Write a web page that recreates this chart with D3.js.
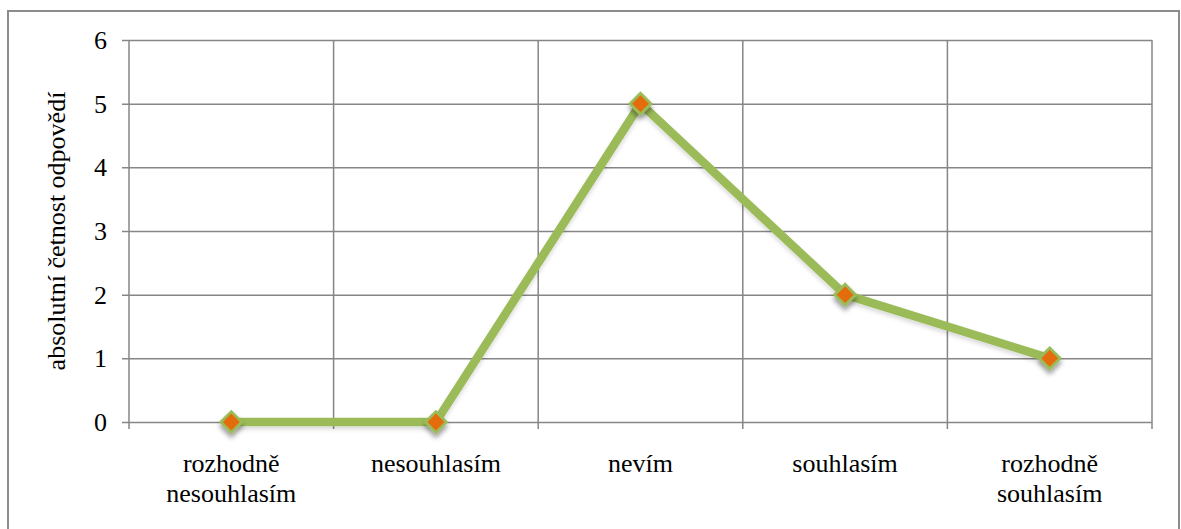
<!DOCTYPE html>
<html>
<head>
<meta charset="utf-8">
<script src="https://cdn.jsdelivr.net/npm/d3@7"></script>
<style>
  html, body { margin: 0; padding: 0; background: #fff; }
  svg { display: block; }
  text { font-family: "Liberation Serif", "Times New Roman", serif; fill: #000; }
</style>
</head>
<body>
<svg id="chart" width="1181" height="529"></svg>
<script>
// Survey answers and how many respondents chose each one
const categories = [["rozhodně", "nesouhlasím"], ["nesouhlasím"], ["nevím"], ["souhlasím"], ["rozhodně", "souhlasím"]];
const counts = [0, 0, 5, 2, 1];
const yTicks = [0, 1, 2, 3, 4, 5, 6];
const yTitle = "absolutní četnost odpovědí";

const W = 1181, H = 529;
const plot = { left: 129, right: 1152, top: 40, bottom: 422 };
const gridColor = "#868686";
const lineColor = "#9BBB59";
const markerFill = "#E46C0A";
const serif = "'Liberation Serif', 'Times New Roman', serif";

const svg = d3.select("#chart");

// soft drop shadow under the line and markers
const defs = svg.append("defs");
const f = defs.append("filter").attr("id", "shadow")
  .attr("x", "-50%").attr("y", "-50%").attr("width", "200%").attr("height", "220%");
f.append("feDropShadow").attr("dx", 0).attr("dy", 4).attr("stdDeviation", 2.6)
  .attr("flood-color", "#000").attr("flood-opacity", 0.4);
const fl = defs.append("filter").attr("id", "lineShadow")
  .attr("x", "-10%").attr("y", "-10%").attr("width", "120%").attr("height", "130%");
fl.append("feDropShadow").attr("dx", 0).attr("dy", 3).attr("stdDeviation", 2)
  .attr("flood-color", "#000").attr("flood-opacity", 0.15);

// outer frame
svg.append("rect")
  .attr("x", 8).attr("y", 11).attr("width", 1171).attr("height", 530)
  .attr("fill", "none").attr("stroke", "#8c8c8c").attr("stroke-width", 2);

const x = d3.scaleBand().domain(d3.range(categories.length))
  .range([plot.left, plot.right]).padding(0);
const y = d3.scaleLinear().domain([0, 6]).range([plot.bottom, plot.top]);

// horizontal gridlines with tick marks on the left
const yAxis = d3.axisLeft(y).tickValues(yTicks).tickSize(7).tickPadding(15)
  .tickFormat(d3.format("d"));
const gy = svg.append("g").attr("transform", `translate(${plot.left},0)`).call(yAxis)
  .attr("font-family", serif);
gy.select(".domain").remove();
gy.selectAll(".tick line").attr("stroke", gridColor).attr("stroke-width", 1.5)
  .attr("x2", -7).attr("x1", plot.right - plot.left);
gy.selectAll(".tick text").attr("font-size", 26).attr("dy", "0.33em");

// vertical gridlines at category boundaries, extending below the axis
const bounds = d3.range(categories.length + 1).map(i =>
  i < categories.length ? x(i) : x(categories.length - 1) + x.bandwidth());
svg.append("g").selectAll("line").data(bounds).join("line")
  .attr("x1", d => d).attr("x2", d => d)
  .attr("y1", plot.top).attr("y2", plot.bottom + 7)
  .attr("stroke", gridColor).attr("stroke-width", 1.5);

// category labels
const gx = svg.append("g").attr("font-family", serif);
categories.forEach((lines, i) => {
  const t = gx.append("text")
    .attr("x", x(i) + x.bandwidth() / 2).attr("y", 472)
    .attr("text-anchor", "middle").attr("font-size", 26);
  lines.forEach((ln, j) => {
    t.append("tspan").attr("x", x(i) + x.bandwidth() / 2)
      .attr("dy", j === 0 ? 0 : 30).text(ln);
  });
});

// axis title
svg.append("text")
  .attr("transform", `translate(65,${(plot.top + plot.bottom) / 2}) rotate(-90)`)
  .attr("text-anchor", "middle").attr("font-size", 26).attr("font-family", serif)
  .text(yTitle);

// the series line
const cx = i => x(i) + x.bandwidth() / 2;
const line = d3.line().x((d, i) => cx(i)).y(d => y(d));
svg.append("path").datum(counts)
  .attr("d", line)
  .attr("fill", "none").attr("stroke", lineColor).attr("stroke-width", 8.5)
  .attr("stroke-linejoin", "round").attr("stroke-linecap", "butt")
  .attr("filter", "url(#lineShadow)");

// diamond markers
const diamond = d3.symbol().type(d3.symbolDiamond2).size(275);
svg.append("g").selectAll("path").data(counts).join("path")
  .attr("d", diamond)
  .attr("transform", (d, i) => `translate(${cx(i)},${y(d)})`)
  .attr("fill", markerFill).attr("stroke", lineColor).attr("stroke-width", 2.8)
  .attr("filter", "url(#shadow)");
</script>
</body>
</html>
